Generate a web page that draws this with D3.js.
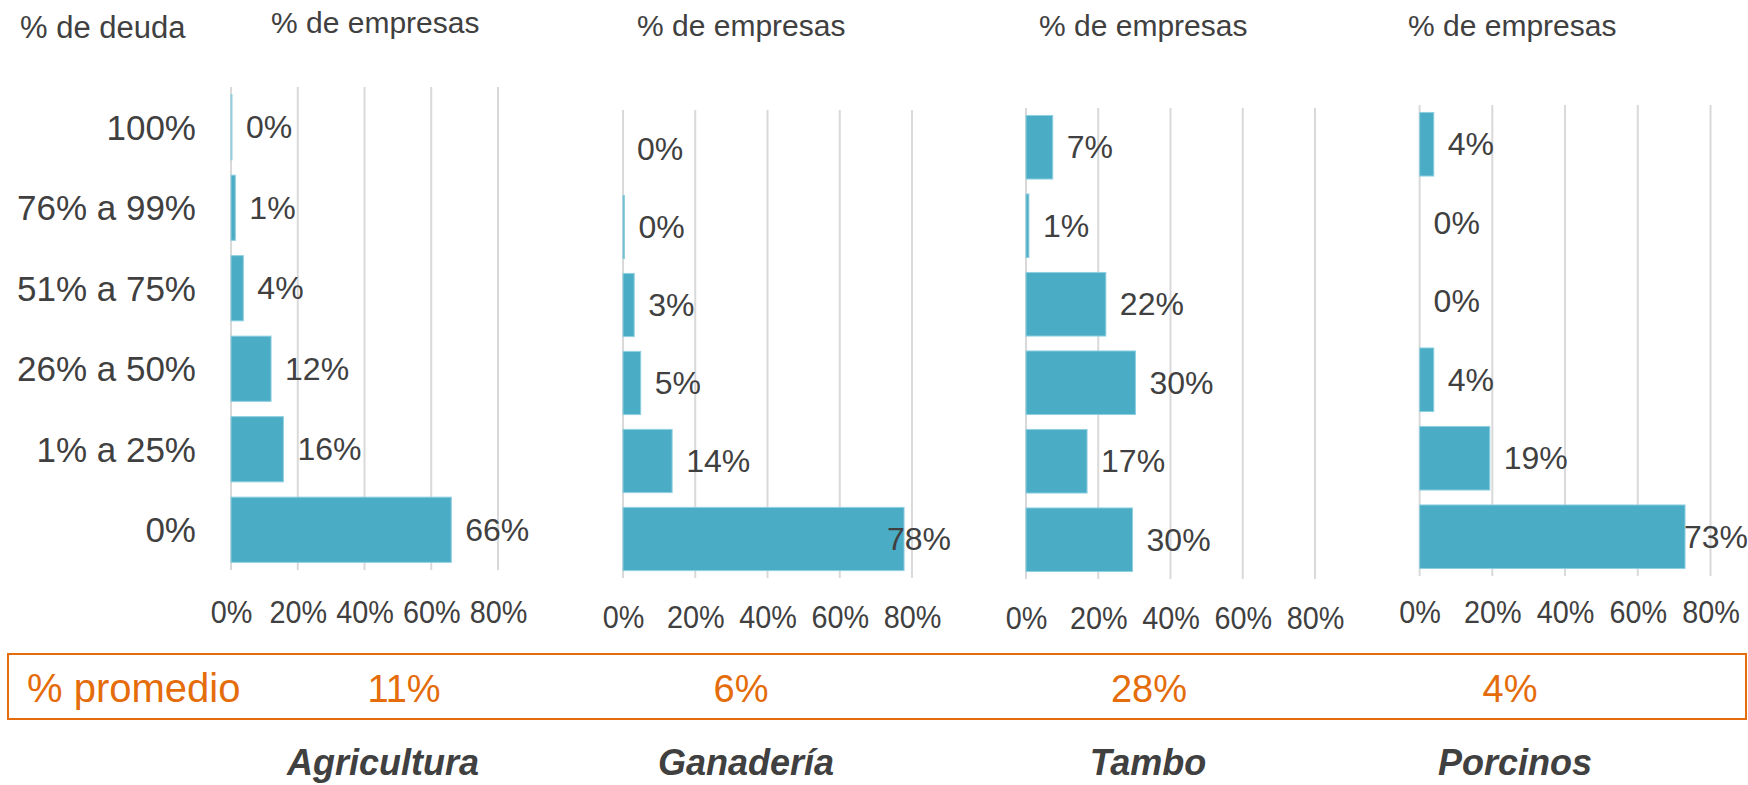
<!DOCTYPE html>
<html>
<head>
<meta charset="utf-8">
<script src="https://cdn.jsdelivr.net/npm/d3@7"></script>
<style>
  html, body { margin: 0; padding: 0; background: #fff; }
  svg { display: block; font-family: "Liberation Sans", Arial, sans-serif; }
  text { fill: #404040; }
</style>
</head>
<body>
<svg width="1748" height="785"></svg>
<script>
// --- Data ---
const categories = ["100%", "76% a 99%", "51% a 75%", "26% a 50%", "1% a 25%", "0%"];
const sectors = ["Agricultura", "Ganadería", "Tambo", "Porcinos"];
const agricultura = [0.3, 1.3, 3.7, 12, 15.7, 66];
const ganaderia = [0, 0.4, 3.1, 4.9, 13.6, 77.8];
const tambo = [7.4, 0.8, 22.1, 30.3, 16.9, 29.5];
const porcinos = [3.9, 0, 0, 3.9, 19.3, 73];
const promedio = [11, 6, 28, 4];
const xTicks = [0, 20, 40, 60, 80];

const seriesValues = [agricultura, ganaderia, tambo, porcinos];

// --- Layout of each small chart (pixels) ---
const panels = [
  { x0: 231, x80: 498, y0: 87, y1: 570, tickY: 623, headX: 271, headY: 33, right: 545, titleX: 383, avgX: 404 },
  { x0: 623, x80: 912, y0: 110, y1: 578, tickY: 628, headX: 637, headY: 36, right: 951, titleX: 746, avgX: 741 },
  { x0: 1026, x80: 1315, y0: 108, y1: 579, tickY: 629, headX: 1039, headY: 36, right: 1345, titleX: 1148, avgX: 1149 },
  { x0: 1419.6, x80: 1710.5, y0: 105, y1: 576, tickY: 623, headX: 1408, headY: 36, right: 1748, titleX: 1515, avgX: 1510 }
];

const barColor = "#4bacc6";
const orange = "#e46c0a";
const svg = d3.select("svg");

// "% de deuda" header over the category labels
svg.append("text")
  .attr("x", 20).attr("y", 38)
  .style("font-size", "31px")
  .text("% de deuda");

panels.forEach((p, i) => {
  const values = seriesValues[i];
  const x = d3.scaleLinear().domain([0, 80]).range([p.x0, p.x80]);
  const y = d3.scaleBand().domain(categories).range([p.y0, p.y1])
    .paddingInner(0.19).paddingOuter(0.095);

  const g = svg.append("g").attr("class", "panel");

  // gridlines
  g.append("g").selectAll("line")
    .data(xTicks)
    .join("line")
    .attr("x1", d => x(d)).attr("x2", d => x(d))
    .attr("y1", p.y0).attr("y2", p.y1)
    .attr("stroke", "#d9d9d9")
    .attr("stroke-width", 2);

  // bars
  g.append("g").selectAll("rect")
    .data(values)
    .join("rect")
    .attr("x", x(0))
    .attr("y", (d, k) => y(categories[k]))
    .attr("width", d => x(d) - x(0))
    .attr("height", y.bandwidth())
    .attr("fill", barColor)
    .attr("stroke", d => d > 0 ? "#8fcfe0" : "none")
    .attr("stroke-width", 1);

  // value labels (pushed back inside the chart when they would overflow)
  g.append("g").selectAll("text")
    .data(values)
    .join("text")
    .attr("y", (d, k) => y(categories[k]) + y.bandwidth() / 2)
    .attr("dy", "0.35em")
    .style("font-size", "32px")
    .text(d => Math.round(d) + "%")
    .attr("x", function(d) {
      const w = this.getComputedTextLength();
      return Math.min(x(d) + 14, p.right - w);
    });

  // x axis tick labels
  const axis = g.append("g")
    .attr("transform", `translate(0,${p.tickY})`)
    .call(d3.axisBottom(x).tickValues(xTicks).tickFormat(d => d + "%").tickSize(0).tickPadding(0));
  axis.select(".domain").remove();
  axis.selectAll("text")
    .attr("y", 0).attr("dy", 0)
    .attr("fill", "#404040")
    .attr("transform", "scale(0.9,1)")
    .style("font-size", "32px")
    .style("font-family", "Liberation Sans, Arial, sans-serif");

  // header
  svg.append("text")
    .attr("x", p.headX).attr("y", p.headY)
    .style("font-size", "30px")
    .text("% de empresas");

  // category labels on the first chart only
  if (i === 0) {
    svg.append("g").selectAll("text")
      .data(categories)
      .join("text")
      .attr("x", 196)
      .attr("y", d => y(d) + y.bandwidth() / 2)
      .attr("dy", "0.35em")
      .attr("text-anchor", "end")
      .style("font-size", "35px")
      .text(d => d);
  }

  // average value inside the orange box
  svg.append("text")
    .attr("x", p.avgX).attr("y", 702)
    .attr("text-anchor", "middle")
    .style("font-size", "38px")
    .style("fill", orange)
    .text(promedio[i] + "%");

  // sector title
  svg.append("text")
    .attr("x", p.titleX).attr("y", 775)
    .attr("text-anchor", "middle")
    .style("font-size", "36px")
    .style("font-weight", "bold")
    .style("font-style", "italic")
    .text(sectors[i]);
});

// orange "% promedio" box
svg.append("rect")
  .attr("x", 8).attr("y", 654)
  .attr("width", 1738).attr("height", 65)
  .attr("fill", "none")
  .attr("stroke", orange)
  .attr("stroke-width", 2);

svg.append("text")
  .attr("x", 27).attr("y", 702)
  .style("font-size", "40px")
  .style("fill", orange)
  .text("% promedio");
</script>
</body>
</html>
